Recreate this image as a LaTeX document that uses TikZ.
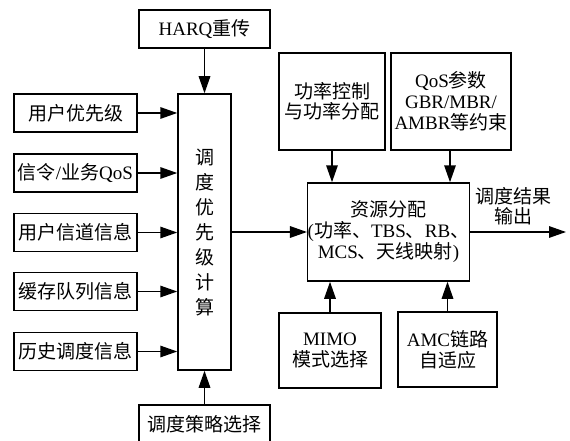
\documentclass[tikz,border=0pt]{standalone}
\usepackage{fontspec}
\setmainfont{Liberation Serif}
\newfontfamily\cjk{Noto Sans CJK SC}
\usetikzlibrary{arrows.meta}
\newcommand\zh[1]{{\cjk #1}}
\begin{document}
\begin{tikzpicture}[x=1pt,y=-1pt,
  box/.style={draw,line width=1.5pt,inner sep=0pt,align=center,font=\fontsize{19}{21}\selectfont},
  wbox/.style={box,minimum width=123pt,minimum height=38pt},
  arr/.style={line width=1.5pt,-{Triangle[length=17pt,width=11.5pt]}},
  lbl/.style={inner sep=0pt,align=center,font=\fontsize{19}{20}\selectfont}]
\useasboundingbox (0,0) rectangle (570,441);
\node[box,minimum width=131pt,minimum height=38pt] (harq) at (204.5,29) {HARQ\zh{重传}};
\node[box,minimum width=53pt,minimum height=276pt,font=\cjk\fontsize{19}{25}\selectfont] (prio) at (204.5,232) {调\\度\\优\\先\\级\\计\\算};
\node[wbox] (u1) at (75.5,113) {\zh{用户优先级}};
\node[wbox] (u2) at (75.5,173) {\zh{信令}/\zh{业务}QoS};
\node[wbox] (u3) at (75.5,232.5) {\zh{用户信道信息}};
\node[wbox] (u4) at (75.5,291.5) {\zh{缓存队列信息}};
\node[wbox] (u5) at (75.5,351.5) {\zh{历史调度信息}};
\node[box,minimum width=131pt,minimum height=38pt] (strat) at (204.5,424) {\zh{调度策略选择}};
\node[box,minimum width=106pt,minimum height=97pt,font=\cjk\fontsize{19}{20}\selectfont] (pow) at (332,101.5) {功率控制\\与功率分配};
\node[box,minimum width=120pt,minimum height=97pt] (qos) at (451,101.5) {QoS\zh{参数}\\GBR/MBR/\\AMBR\zh{等约束}};
\node[box,minimum width=159pt,minimum height=98pt] (res) at (388.5,232) {\zh{资源分配}\\(\zh{功率、}TBS\zh{、}RB\zh{、}\\MCS\zh{、天线映射})};
\node[box,minimum width=102pt,minimum height=75pt] (mimo) at (330,350.5) {MIMO\\\zh{模式选择}};
\node[box,minimum width=99pt,minimum height=75pt] (amc) at (447.5,349.5) {AMC\zh{链路}\\\zh{自适应}};
\coordinate (out) at (566,232);
\node[lbl,font=\cjk\fontsize{19}{20}\selectfont] (outl) at (513,206) {调度结果\\输出};
\foreach \u in {u1,u2,u3,u4,u5}
  \draw[arr] (\u.east) -- (\u.east -| prio.west);
\draw[arr] (harq.south) -- (prio.north);
\draw[arr] (strat.north) -- (prio.south);
\draw[arr] (prio.east |- res.west) -- (res.west);
\draw[arr] (pow.south) -- (pow.south |- res.north);
\draw[arr] ([xshift=-1pt]qos.south) -- ([xshift=-1pt]qos.south |- res.north);
\draw[arr] (mimo.north) -- (mimo.north |- res.south);
\draw[arr] (amc.north) -- (amc.north |- res.south);
\draw[arr] (res.east) -- (out);
\end{tikzpicture}
\end{document}
